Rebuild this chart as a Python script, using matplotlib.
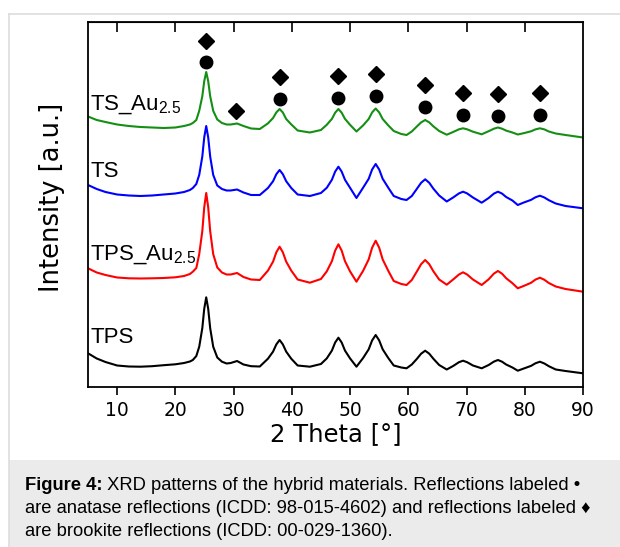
import matplotlib
matplotlib.use("Agg")
import matplotlib.pyplot as plt
from matplotlib.lines import Line2D
from matplotlib.patches import Rectangle

plt.rcParams['mathtext.fontset'] = 'custom'
plt.rcParams['mathtext.rm'] = 'Liberation Sans'

# 2 theta positions
two_theta = [5, 6.5, 8, 10, 12, 14, 16, 18, 20, 21.5, 22.5, 23, 23.6,
             24.1, 24.63, 24.96, 25.3, 25.64, 25.98, 26.5, 27.2, 28, 28.8, 29.5, 30.6, 31.7, 33, 34.5,
             35.9, 36.78, 37.34, 37.9, 38.46, 39.03, 39.9, 41, 43.1, 45,
             46.0, 46.88, 47.44, 48.0, 48.56, 49.13, 50.0, 51.1,
             52.24, 53.2, 53.79, 54.4, 55.0, 55.6, 56.56, 57.5, 58.8, 59.7,
             60.6, 61.5, 62.2, 62.9, 63.6, 64.3, 65.3, 66.6,
             67.7, 68.7, 69.4, 70.1, 71.1, 72.6,
             73.8, 74.7, 75.4, 76.1, 76.8, 77.88, 78.8,
             79.88, 81.07, 81.83, 82.6, 83.37, 84.13, 85.32, 87, 90]

# stacked intensities (a.u.), offsets included as in the figure
ts_au = [270.5, 267, 265, 262.5, 261, 260, 259.5, 259, 259.5, 261, 262.5, 264, 267,
         276.2, 290.8, 305.9, 315, 305.9, 290.8, 276.2, 267.5, 264, 262.5, 262.5, 263.5, 261, 258.5, 258,
         263.6, 269, 274.6, 278, 274.5, 268, 262.6, 256.5, 254.5, 257,
         262.2, 268.1, 274.3, 278, 274.3, 268.1, 262.2, 255.5,
         261.6, 268, 274.6, 278.5, 274.6, 268, 261.6, 256, 253, 252,
         255.5, 260.7, 264.6, 267, 264.6, 260.7, 256, 252.3,
         255, 257.7, 258.7, 257.7, 255.3, 252.7,
         255.8, 258.3, 259.5, 258.3, 256.4, 254.5, 252.5,
         253.9, 255.7, 257.6, 258.7, 257.6, 255.5, 253.5, 252, 249.5]
ts = [202, 198, 195, 192.5, 191.5, 191, 191.5, 192.5, 193.5, 195, 197, 199, 203,
      212.1, 230.5, 249.6, 261, 249.6, 230.5, 212.1, 201.5, 198, 196.5, 196.5, 197.5, 194.5, 192, 192,
      199, 205.8, 212.8, 217, 212.8, 205.8, 199, 192.5, 191, 194,
      199.2, 207.2, 215.4, 220.3, 215.4, 207.2, 199.2, 189,
      199.3, 208.2, 217.5, 223, 217.5, 208.2, 199.3, 191, 188, 187,
      191, 198.4, 204.2, 207.7, 204.2, 198.4, 191.5, 185.5,
      189.5, 193.6, 195.3, 193.6, 189.5, 184.3,
      189, 193.4, 195.3, 193.4, 190, 186.5, 182,
      184.6, 187.1, 189.7, 191.3, 189.5, 186.8, 183.5, 181, 178.7]
tps_au = [118.7, 114.5, 112, 109.5, 108.7, 108.5, 108.7, 109, 109.7, 111, 113, 115.3, 119,
          132.9, 155.9, 179.7, 194, 179.7, 155.9, 132.9, 119.5, 114.5, 112.5, 112.5, 114, 110, 107.5, 107,
          116.4, 125.4, 134.7, 140.3, 134.7, 125.4, 116.4, 107.5, 104.3, 108,
          115.6, 125.8, 136.4, 142.7, 136.4, 125.8, 115.6, 105.3,
          116.2, 127.6, 139.3, 146.3, 139.3, 127.6, 116.2, 106, 103, 102,
          107, 115.8, 122.8, 127, 122.8, 115.8, 107.5, 102.3,
          107.5, 112.5, 114.7, 112.5, 107.5, 102,
          107.7, 113.4, 116, 113.3, 108.8, 103.8, 98.7,
          101.2, 104.2, 107.4, 109.3, 107.2, 104, 100.5, 98, 95.3]
tps = [33.7, 28.5, 25, 21.5, 20.5, 20.3, 20.8, 21.8, 22.7, 24, 25.5, 27, 31,
       40.3, 58.9, 78.2, 89.7, 78.2, 58.9, 40.3, 29.5, 25.3, 23.5, 24, 26, 22.5, 20.8, 20.5,
       28.3, 35.4, 42.6, 47, 42.6, 35.4, 28.3, 21.5, 20.3, 23,
       28.6, 36.4, 44.5, 49.3, 44.5, 36.4, 28.6, 20.3,
       29, 37.7, 46.6, 52, 46.6, 37.7, 29, 21.5, 19.5, 18.7,
       22.5, 28.3, 33.3, 36.3, 33.3, 28.3, 22, 17.5,
       21, 24.8, 26.3, 24.8, 21.5, 18.7,
       22, 25.4, 27, 25.3, 22.5, 19.5, 16.3,
       18.6, 21.1, 23.7, 25.3, 23.5, 20.8, 17.5, 16, 13.7]

# reflection markers
anatase_x = [25.3, 37.9, 48.0, 54.4, 62.9, 69.4, 75.4, 82.6]
anatase_y = [325.3, 288, 288.7, 291, 279.7, 272, 271, 272]
brookite_x = [25.3, 30.5, 37.9, 48.0, 54.4, 62.9, 69.4, 75.4, 82.6]
brookite_y = [346.3, 276.3, 309.7, 311, 313, 302, 294.3, 293, 294.3]

labels = [r"TS_Au$_\mathregular{2.5}$", "TS", r"TPS_Au$_\mathregular{2.5}$", "TPS"]
label_y = [277, 210, 127, 44.3]

fig = plt.figure(figsize=(6.2, 5.47), dpi=100)

# caption box and frame
fig.add_artist(Rectangle((9 / 620, 0), 1, 87 / 547, transform=fig.transFigure,
                         facecolor='#ebebeb', edgecolor='none', zorder=0))
fig.add_artist(Line2D([9 / 620, 1], [1 - 14 / 547, 1 - 14 / 547], transform=fig.transFigure,
                      color='#dddddd', lw=1.2))
fig.add_artist(Line2D([9 / 620, 9 / 620], [0, 1 - 14 / 547], transform=fig.transFigure,
                      color='#dddddd', lw=1.2))

ax = fig.add_axes([88 / 620, 1 - 387 / 547, 495 / 620, 365 / 547])
ax.plot(two_theta, ts_au, color='#148f14', lw=1.5)
ax.plot(two_theta, ts, color='#0000ff', lw=1.5)
ax.plot(two_theta, tps_au, color='#ff0000', lw=1.5)
ax.plot(two_theta, tps, color='black', lw=1.5)

ax.plot(anatase_x, anatase_y, 'o', color='black', ms=9, ls='none')
ax.plot(brookite_x, brookite_y, 'D', color='black', ms=8.5, ls='none')

for lab, yy in zip(labels, label_y):
    ax.text(5.35, yy, lab, fontsize=16, family='Liberation Sans', va='baseline', ha='left')

ax.set_xlim(5, 90)
ax.set_ylim(0, 365)
ax.set_yticks([])
ax.set_xticks(range(10, 91, 10))
ax.tick_params(axis='x', direction='out', length=6, width=1.2, labelsize=13.5, pad=4)
for s in ax.spines.values():
    s.set_linewidth(1.3)

top = ax.secondary_xaxis('top')
top.set_xticks(range(10, 81, 10))
top.tick_params(direction='in', length=7, width=1.2, labeltop=False)

ax.set_xlabel("2 Theta [°]", fontsize=17.5)
ax.set_ylabel("Intensity [a.u.]", fontsize=18.5)
ax.xaxis.set_label_coords(0.5, -0.095)
ax.yaxis.set_label_coords(-0.046, 0.52)

# caption
cap_font = ['Liberation Sans', 'DejaVu Sans']
t1 = fig.text(25 / 620, 1 - 490 / 547, "Figure 4:", fontsize=13.2, weight='bold',
              family=cap_font, va='baseline')
ax.annotate(" XRD patterns of the hybrid materials. Reflections labeled \u2022",
            xy=(1, 0), xycoords=t1, va='bottom', fontsize=13.2, family=cap_font,
            annotation_clip=False)
fig.text(25 / 620, 1 - 513 / 547,
         "are anatase reflections (ICDD: 98-015-4602) and reflections labeled \u2666",
         fontsize=13.2, family=cap_font, va='baseline')
fig.text(25 / 620, 1 - 536 / 547, "are brookite reflections (ICDD: 00-029-1360).",
         fontsize=13.2, family=cap_font, va='baseline')

fig.savefig("out.png", dpi=100)
